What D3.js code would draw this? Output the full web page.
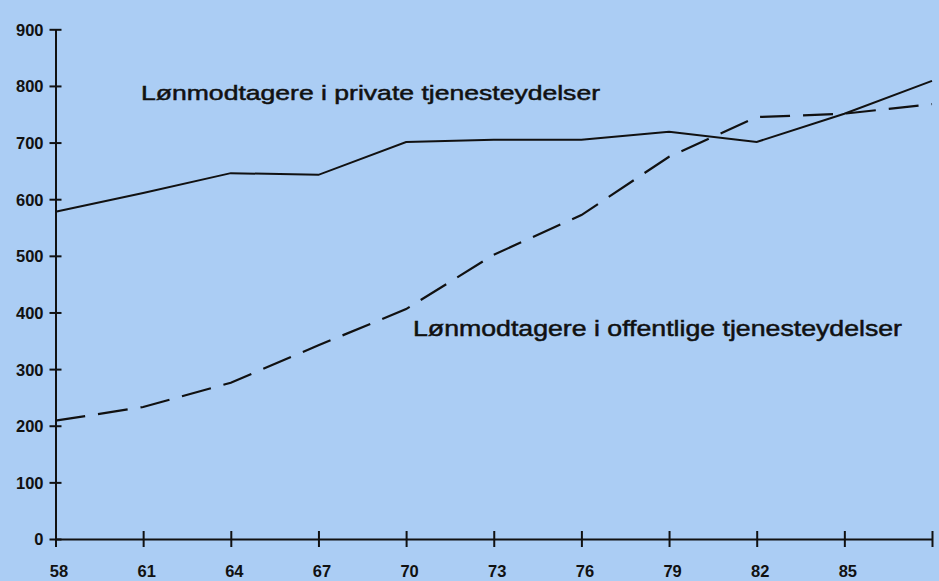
<!DOCTYPE html>
<html lang="da">
<head>
<meta charset="utf-8">
<script src="https://d3js.org/d3.v7.min.js"></script>
<style>
  body { margin: 0; background: #abcdf4; }
  svg { display: block; }
  .tick text { font-family: "Liberation Sans", Arial, sans-serif; font-weight: bold; font-size: 16.5px; fill: #111; }
</style>
</head>
<body>
<script>
// years (19xx) and thousands of employees
var years = [58, 61, 64, 67, 70, 73, 76, 79, 82, 85, 88];
var xTickLabels = ["58", "61", "64", "67", "70", "73", "76", "79", "82", "85", ""];
var privat = [578, 611, 646, 643, 701, 705, 705, 719, 701, 751, 809];
var offentlig = [209, 233, 276, 342, 406, 502, 572, 675, 745, 751, 768];
var yTicks = [0, 100, 200, 300, 400, 500, 600, 700, 800, 900];
var labelPrivat = "Lønmodtagere i private tjenesteydelser";
var labelOffentlig = "Lønmodtagere i offentlige tjenesteydelser";

var W = 939, H = 581;
var svg = d3.select("body").append("svg").attr("width", W).attr("height", H);
svg.append("rect").attr("width", W).attr("height", H).attr("fill", "#abcdf4");

var x = d3.scaleLinear().domain([58, 88]).range([55.5, 932]);
var y = d3.scaleLinear().domain([0, 900]).range([539, 29.3]);

// y axis, ticks crossing the line
var yAxis = svg.append("g").attr("transform", "translate(55.5,0)")
  .call(d3.axisLeft(y).tickValues(yTicks).tickSize(0).tickPadding(12).tickFormat(d3.format("d")));
yAxis.select(".domain").attr("stroke", "#111").attr("stroke-width", 2);
yAxis.selectAll(".tick line").attr("x1", -6).attr("x2", 6).attr("stroke", "#111").attr("stroke-width", 2);
yAxis.selectAll(".tick text").attr("dy", "0.36em");

// x axis
var xAxis = svg.append("g").attr("transform", "translate(0,539)")
  .call(d3.axisBottom(x).tickValues(years).tickSize(0).tickPadding(26)
    .tickFormat(function(d, i) { return xTickLabels[i]; }));
xAxis.select(".domain").attr("stroke", "#111").attr("stroke-width", 2);
xAxis.selectAll(".tick line").attr("y1", -8).attr("y2", 8).attr("stroke", "#111").attr("stroke-width", 2);
xAxis.selectAll(".tick text").attr("dx", 3);

var line = d3.line().x(function(d, i) { return x(years[i]); }).y(function(d) { return y(d); });

svg.append("path").datum(privat).attr("d", line)
  .attr("fill", "none").attr("stroke", "#111").attr("stroke-width", 2);

svg.append("path").datum(offentlig).attr("d", line)
  .attr("fill", "none").attr("stroke", "#111").attr("stroke-width", 2.2)
  .attr("stroke-dasharray", "30,13");

svg.append("text").attr("x", 141).attr("y", 100).text(labelPrivat)
  .attr("font-family", "Liberation Sans, Arial, sans-serif").attr("font-size", 21)
  .attr("fill", "#111").attr("stroke", "#111").attr("stroke-width", 0.5)
  .attr("textLength", 459).attr("lengthAdjust", "spacingAndGlyphs");

svg.append("text").attr("x", 413).attr("y", 336).text(labelOffentlig)
  .attr("font-family", "Liberation Sans, Arial, sans-serif").attr("font-size", 22)
  .attr("fill", "#111").attr("stroke", "#111").attr("stroke-width", 0.5)
  .attr("textLength", 489).attr("lengthAdjust", "spacingAndGlyphs");
</script>
</body>
</html>
